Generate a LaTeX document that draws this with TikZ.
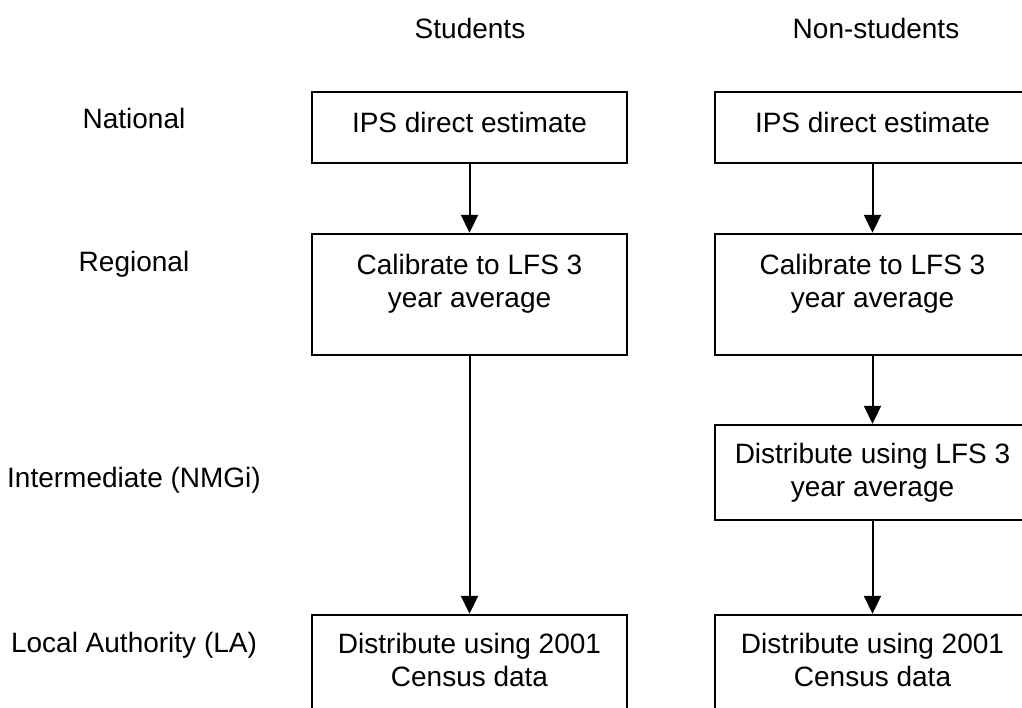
\documentclass[tikz,border=0pt]{standalone}
\usepackage{fontspec}
\setmainfont{Liberation Sans}
\usetikzlibrary{arrows.meta}

\tikzset{
  txt/.style={inner sep=0pt, align=center, font=\fontsize{28}{33}\selectfont},
  flowbox/.style={draw, line width=2.4pt, inner sep=0pt, minimum width=315pt},
  flowarrow/.style={line width=2pt, -{Triangle[width=17pt,length=18pt]}}
}

\begin{document}
\begin{tikzpicture}[x=1pt, y=-1pt]
  \clip (0,0) rectangle (1022,708);

  % column headers
  \node[txt, anchor=base] (hs) at (470,39) {Students};
  \node[txt, anchor=base] (hn) at (876,39) {Non-students};

  % level labels
  \node[txt, anchor=base] (lnat) at (134,129) {National};
  \node[txt, anchor=base] (lreg) at (134,272) {Regional};
  \node[txt, anchor=base] (lint) at (134,487) {Intermediate (NMGi)};
  \node[txt, anchor=base] (lla)  at (134,652) {Local Authority (LA)};

  % students column
  \node[flowbox, minimum height=71pt]  (s1) at (469.5,127.5) {};
  \node[flowbox, minimum height=121pt] (s2) at (469.5,294.5) {};
  \node[flowbox, minimum height=120pt] (s4) at (469.5,675) {};

  % non-students column
  \node[flowbox, minimum height=71pt]  (n1) at (872.5,127.5) {};
  \node[flowbox, minimum height=121pt] (n2) at (872.5,294.5) {};
  \node[flowbox, minimum height=95pt]  (n3) at (872.5,472.5) {};
  \node[flowbox, minimum height=120pt] (n4) at (872.5,675) {};

  % box texts (top of each text block sits one cap height above its first baseline)
  \node[txt, anchor=north] (s1t) at (469.5,112) {IPS direct estimate};
  \node[txt, anchor=north] (s2t) at (469.5,254) {Calibrate to LFS 3\\year average};
  \node[txt, anchor=north] (s4t) at (469.5,633) {Distribute using 2001\\Census data};

  \node[txt, anchor=north] (n1t) at (872.5,112) {IPS direct estimate};
  \node[txt, anchor=north] (n2t) at (872.5,254) {Calibrate to LFS 3\\year average};
  \node[txt, anchor=north] (n3t) at (872.5,443) {Distribute using LFS 3\\year average};
  \node[txt, anchor=north] (n4t) at (872.5,633) {Distribute using 2001\\Census data};

  % connectors
  \draw[flowarrow] (s1.south) -- (s2.north);
  \draw[flowarrow] (s2.south) -- (s4.north);
  \draw[flowarrow] (n1.south) -- (n2.north);
  \draw[flowarrow] (n2.south) -- (n3.north);
  \draw[flowarrow] (n3.south) -- (n4.north);
\end{tikzpicture}
\end{document}
